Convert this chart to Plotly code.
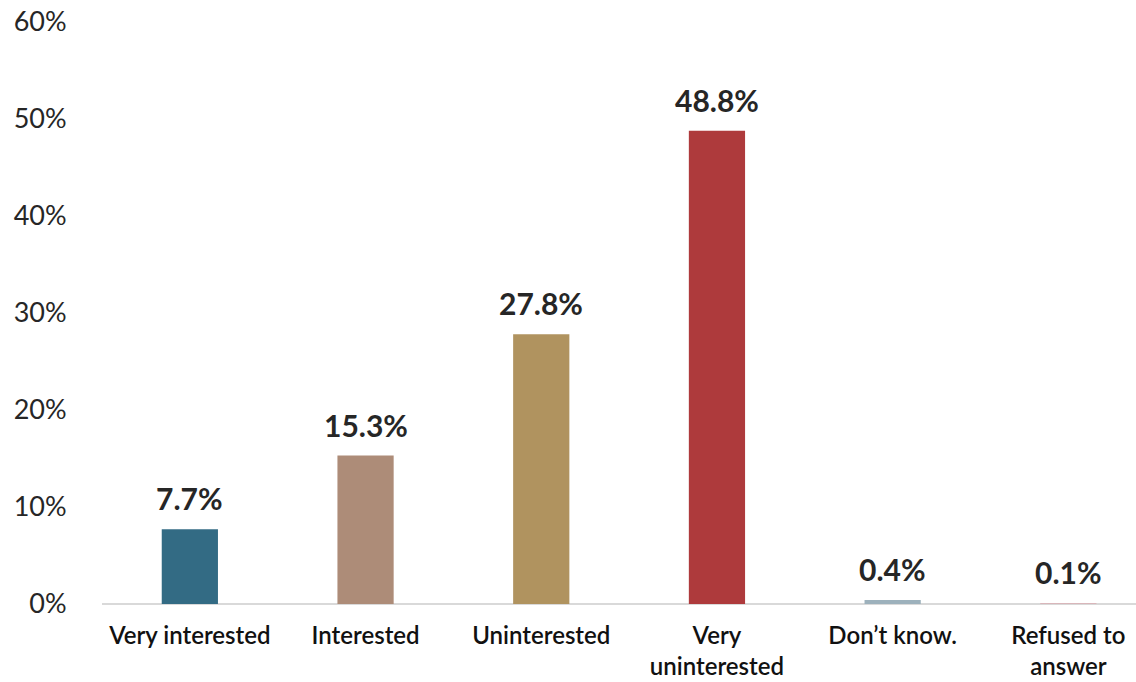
import plotly.graph_objects as go

categories = ["Very interested", "Interested", "Uninterested", "Very<br>uninterested",
              "Don’t know.", "Refused to<br>answer"]
values = [7.7, 15.3, 27.8, 48.8, 0.4, 0.1]
colors = ["#336B84", "#AD8C78", "#B0935F", "#AE3A3C", "#9DB1BC", "#D9B6BA"]
y_ticks = [0, 10, 20, 30, 40, 50, 60]
y_tick_labels = [f"{t}%" for t in y_ticks]

FONT = "Lato, 'Open Sans', sans-serif"

fig = go.Figure()
fig.add_trace(go.Bar(
    x=list(range(len(categories))),
    y=values,
    marker=dict(color=colors, line=dict(width=0)),
    width=0.32,
    hoverinfo="skip",
))

# value labels above each bar
for i, v in enumerate(values):
    fig.add_annotation(
        x=i, y=v, text=f"<b>{v:.1f}%</b>", showarrow=False,
        yanchor="bottom", yshift=11,
        font=dict(family=FONT, size=30, color="#262626"),
    )

fig.update_layout(
    width=1136, height=682,
    margin=dict(l=102, r=0, t=22, b=78),
    paper_bgcolor="white", plot_bgcolor="white",
    showlegend=False,
    font=dict(family=FONT, color="#262626"),
)
fig.update_xaxes(
    range=[-0.5, 5.385],
    automargin=False,
    tickmode="array",
    tickvals=list(range(len(categories))),
    ticktext=categories,
    tickfont=dict(family=FONT, size=24, color="#111111", weight=600),
    ticks="outside", ticklen=10, tickcolor="rgba(0,0,0,0)",
    showgrid=False, zeroline=False,
    showline=False,
)
fig.update_yaxes(
    range=[0, 60],
    automargin=False,
    tickmode="array",
    tickvals=y_ticks,
    ticktext=y_tick_labels,
    tickfont=dict(family=FONT, size=27, color="#262626"),
    ticks="outside", ticklen=29, tickcolor="rgba(0,0,0,0)",
    showgrid=False,
    zeroline=True, zerolinecolor="#D9D9D9", zerolinewidth=2,
    showline=False,
)

fig.write_html("out.html")
